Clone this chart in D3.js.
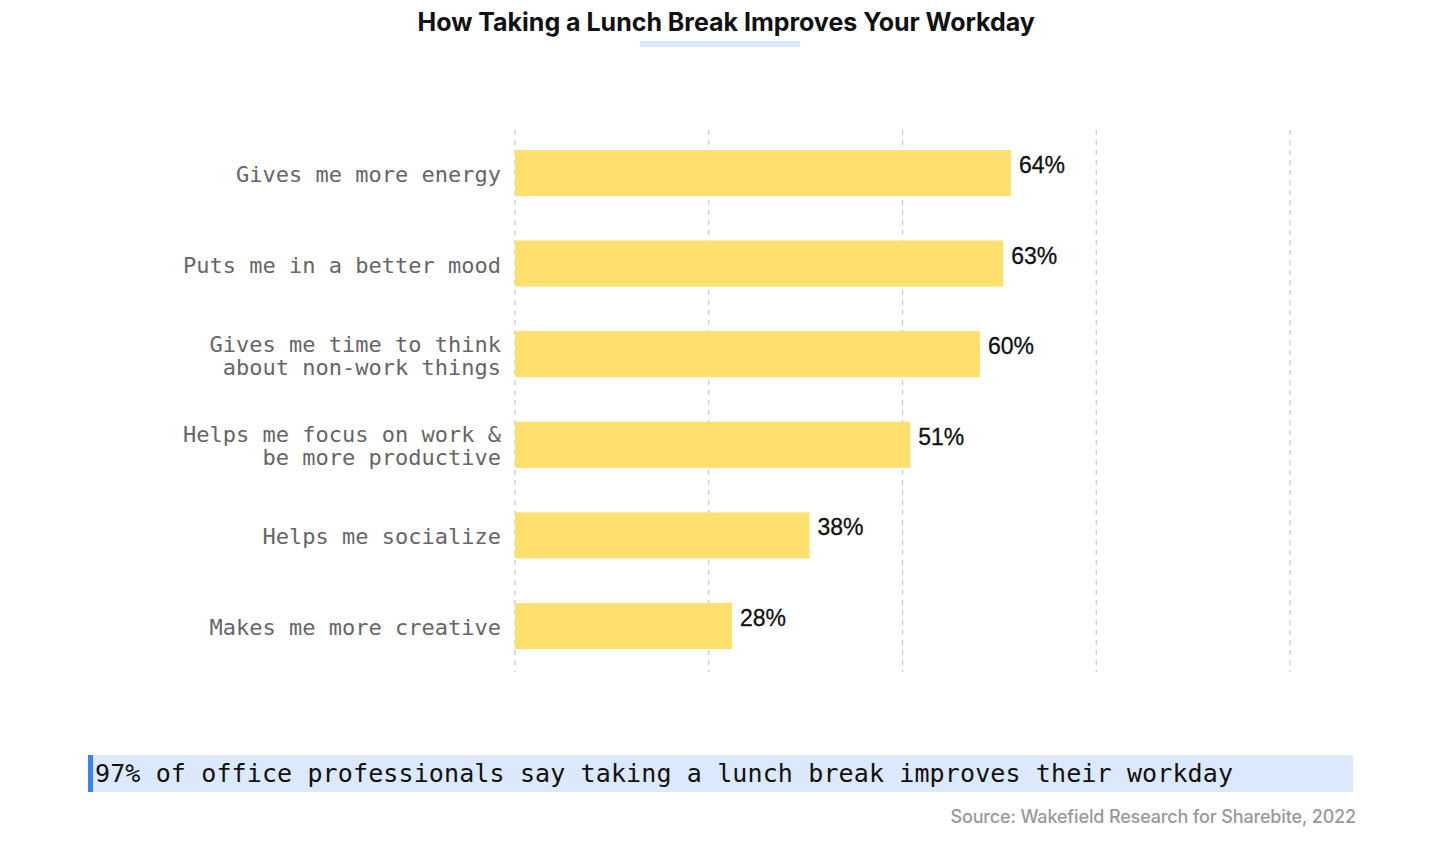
<!DOCTYPE html>
<html>
<head>
<meta charset="utf-8">
<script src="https://cdn.jsdelivr.net/npm/d3@7"></script>
<style>
  html, body { margin: 0; padding: 0; background: #fff; }
  svg { display: block; }
</style>
</head>
<body>
<svg id="chart" width="1440" height="846"></svg>
<script>
const categories = [
  ["Gives me more energy"],
  ["Puts me in a better mood"],
  ["Gives me time to think", "about non-work things"],
  ["Helps me focus on work &", "be more productive"],
  ["Helps me socialize"],
  ["Makes me more creative"]
];
const values = [64, 63, 60, 51, 38, 28];
const gridTicks = [0, 25, 50, 75, 100];
const title = "How Taking a Lunch Break Improves Your Workday";
const callout = "97% of office professionals say taking a lunch break improves their workday";
const source = "Source: Wakefield Research for Sharebite, 2022";

const svg = d3.select("#chart");
const keys = categories.map(c => c.join(" "));

const x = d3.scaleLinear().domain([0, 100]).range([515, 1290]);
const y = d3.scaleBand().domain(keys).range([130, 669]).paddingInner(0.492).paddingOuter(0.22);

// Title
svg.append("rect").attr("x", 640).attr("y", 41).attr("width", 160).attr("height", 6).attr("fill", "#dce8fb");
svg.append("text").attr("x", 726).attr("y", 31).attr("text-anchor", "middle")
  .attr("font-family", "Inter, 'Open Sans', sans-serif").attr("font-weight", 700)
  .attr("font-size", 25).attr("letter-spacing", "-0.4").attr("textLength", 617)
  .attr("fill", "#111").text(title);

// Grid
svg.append("g").selectAll("line").data(gridTicks).join("line")
  .attr("x1", d => x(d)).attr("x2", d => x(d))
  .attr("y1", 130).attr("y2", 672)
  .attr("stroke", "#c8c8c8").attr("stroke-width", 1.2).attr("stroke-dasharray", "5,5");

// Bars
svg.append("g").selectAll("rect").data(values).join("rect")
  .attr("x", x(0)).attr("y", (d, i) => y(keys[i]))
  .attr("width", d => x(d) - x(0)).attr("height", y.bandwidth())
  .attr("fill", "#ffe06e");

// Value labels
svg.append("g").selectAll("text").data(values).join("text")
  .attr("x", d => x(d) + 8).attr("y", (d, i) => y(keys[i]) + 23)
  .attr("font-family", "'Liberation Sans', Arial, sans-serif").attr("font-size", 23)
  .attr("stroke", "#111").attr("stroke-width", 0.3)
  .attr("fill", "#111").text(d => d + "%");

// Category labels
const lab = svg.append("g").selectAll("text").data(categories).join("text")
  .attr("text-anchor", "end")
  .attr("font-family", "'DejaVu Sans Mono', 'Liberation Mono', monospace").attr("font-size", 22)
  .attr("fill", "#666");
lab.each(function(lines, i) {
  const cy = y(keys[i]) + y.bandwidth() / 2;
  const lh = 23;
  const start = cy - (lines.length - 1) * lh / 2 + 9;
  d3.select(this).selectAll("tspan").data(lines).join("tspan")
    .attr("x", 501).attr("y", (l, j) => start + j * lh).text(l => l);
});

// Callout
svg.append("rect").attr("x", 88).attr("y", 755).attr("width", 1265).attr("height", 37).attr("fill", "#dce8fb");
svg.append("rect").attr("x", 88).attr("y", 755).attr("width", 5).attr("height", 37).attr("fill", "#3b82f6");
svg.append("text").attr("x", 95).attr("y", 782)
  .attr("font-family", "'DejaVu Sans Mono', 'Liberation Mono', monospace").attr("font-size", 25)
  .attr("textLength", 1138).attr("fill", "#111").text(callout);

// Source
svg.append("text").attr("x", 1356).attr("y", 823).attr("text-anchor", "end")
  .attr("font-family", "Inter, 'Open Sans', sans-serif").attr("font-weight", 500)
  .attr("font-size", 18).attr("letter-spacing", "-0.15").attr("fill", "#999").text(source);
</script>
</body>
</html>
